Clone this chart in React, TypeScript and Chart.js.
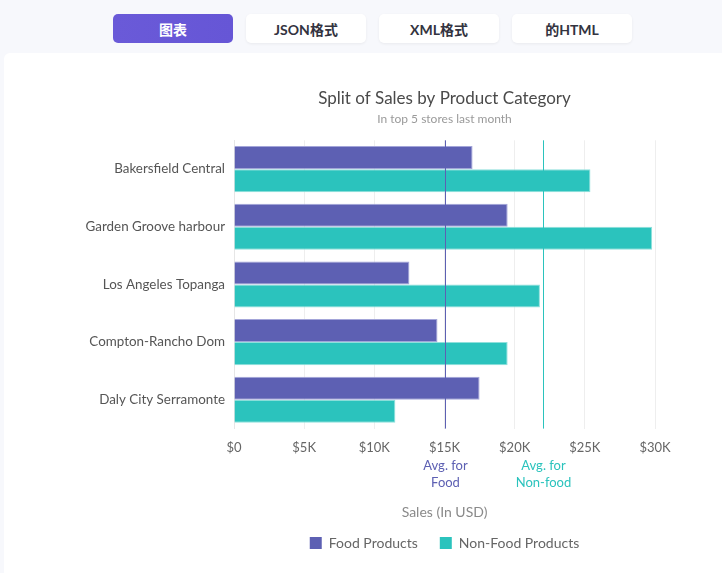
import React, { useEffect, useRef } from "react";
import { Chart, registerables } from "chart.js";

Chart.register(...registerables);

const stores = [
  "Bakersfield Central",
  "Garden Groove harbour",
  "Los Angeles Topanga",
  "Compton-Rancho Dom",
  "Daly City Serramonte",
];
const foodSales = [17000, 19500, 12500, 14500, 17500];
const nonFoodSales = [25400, 29800, 21800, 19500, 11500];
const avgValues = [15000, 22000];
const avgLabels = [["Avg. for", "Food"], ["Avg. for", "Non-food"]];
const tabs = ["图表", "JSON格式", "XML格式", "的HTML"];

const FONT = "Lato, 'Noto Sans CJK SC', sans-serif";
const FOOD = "#5d60b3";
const NONFOOD = "#2bc3bd";
const avgColors = [FOOD, "#2bc3bd"];

const avgPlugin = {
  id: "avgLines",
  afterDatasetsDraw(chart: any) {
    const { ctx, chartArea, scales } = chart;
    const x = scales.x;
    ctx.save();
    avgValues.forEach((v, i) => {
      const px = Math.round(x.getPixelForValue(v)) + 0.5;
      ctx.strokeStyle = avgColors[i];
      ctx.lineWidth = 1;
      ctx.beginPath();
      ctx.moveTo(px, chartArea.top);
      ctx.lineTo(px, chartArea.bottom);
      ctx.stroke();
      ctx.fillStyle = avgColors[i];
      ctx.font = "13px " + FONT;
      ctx.textAlign = "center";
      ctx.textBaseline = "middle";
      avgLabels[i].forEach((t, j) => {
        ctx.fillText(t, px, chartArea.bottom + 37 + j * 17);
      });
    });
    ctx.restore();
  },
};

export default function App() {
  const ref = useRef<HTMLCanvasElement>(null);
  useEffect(() => {
    document.body.style.margin = "0";
    const chart = new Chart(ref.current!, {
      type: "bar",
      data: {
        labels: stores,
        datasets: [
          {
            label: "Food Products",
            data: foodSales,
            backgroundColor: FOOD,
            borderColor: "#a3a5d9",
            borderWidth: 1,
            categoryPercentage: 0.8,
            barPercentage: 1,
          },
          {
            label: "Non-Food Products",
            data: nonFoodSales,
            backgroundColor: NONFOOD,
            borderColor: "#8fe0dc",
            borderWidth: 1,
            categoryPercentage: 0.8,
            barPercentage: 1,
          },
        ],
      },
      options: {
        indexAxis: "y",
        animation: false,
        responsive: false,
        maintainAspectRatio: false,
        layout: { padding: { top: 28, right: 0, bottom: 13, left: 0 } },
        plugins: {
          title: {
            display: true,
            text: "Split of Sales by Product Category",
            color: "#4a4a4a",
            font: { family: FONT, size: 17, weight: "normal" },
            padding: { top: 7, bottom: 1 },
          },
          subtitle: {
            display: true,
            text: "In top 5 stores last month",
            color: "#9a9a9a",
            font: { family: FONT, size: 12 },
            padding: { top: 2.5, bottom: 14 },
          },
          legend: {
            position: "bottom",
            labels: {
              color: "#666",
              font: { family: FONT, size: 14 },
              boxWidth: 12,
              boxHeight: 12,
              padding: 22,
              generateLabels: (c: any) =>
                c.data.datasets.map((d: any, i: number) => ({
                  text: d.label,
                  fillStyle: d.backgroundColor,
                  strokeStyle: d.backgroundColor,
                  lineWidth: 0,
                  datasetIndex: i,
                  fontColor: "#666",
                })),
            },
          },
          tooltip: { enabled: false },
        },
        scales: {
          x: {
            min: 0,
            max: 30000,
            ticks: {
              stepSize: 5000,
              color: "#666",
              padding: 11,
              font: { family: FONT, size: 13 },
              callback: (v: any) => (v === 0 ? "$0" : "$" + v / 1000 + "K"),
            },
            grid: { color: "#eeeeee", drawTicks: false },
            border: { display: false },
            title: {
              display: true,
              text: "Sales (In USD)",
              color: "#8a8a8a",
              font: { family: FONT, size: 14 },
              padding: { top: 38, bottom: -7 },
            },
          },
          y: {
            ticks: {
              color: "#555",
              padding: 9,
              font: { family: FONT, size: 13.4 },
            },
            grid: { display: false, drawTicks: false },
            border: { display: true, color: "#e6e6e6" },
            afterFit: (s: any) => {
              s.width = 154;
            },
          },
          ySpacer: {
            type: "category",
            position: "right",
            labels: stores,
            grid: { display: false, drawTicks: false },
            border: { display: false },
            ticks: { display: false },
            afterFit: (s: any) => {
              s.width = 154;
            },
          },
        },
      },
      plugins: [avgPlugin],
    });
    return () => chart.destroy();
  }, []);

  return (
    <div
      style={{
        position: "relative",
        width: 722,
        height: 573,
        background: "#f7f8fc",
        overflow: "hidden",
        fontFamily: FONT,
      }}
    >
      {tabs.map((t, i) => (
        <div
          key={t}
          style={{
            position: "absolute",
            left: 113 + i * 133,
            top: 14,
            width: 120,
            height: 29,
            borderRadius: 5,
            background: i === 0 ? "linear-gradient(90deg,#6a5ad8,#6656d6)" : "#ffffff",
            boxShadow: i === 0 ? "none" : "0 1px 3px rgba(0,0,0,0.06)",
            color: i === 0 ? "#ffffff" : "#333340",
            fontWeight: 700,
            fontSize: 14,
            display: "flex",
            alignItems: "center",
            justifyContent: "center",
          }}
        >
          {t}
        </div>
      ))}
      <div
        style={{
          position: "absolute",
          left: 4,
          top: 53,
          width: 718,
          height: 520,
          background: "#ffffff",
          borderTopLeftRadius: 6,
          overflow: "hidden",
        }}
      >
        <canvas
          ref={ref}
          width={729}
          height={520}
          style={{ display: "block", position: "absolute", left: 76, top: 0 }}
        />
      </div>
    </div>
  );
}
